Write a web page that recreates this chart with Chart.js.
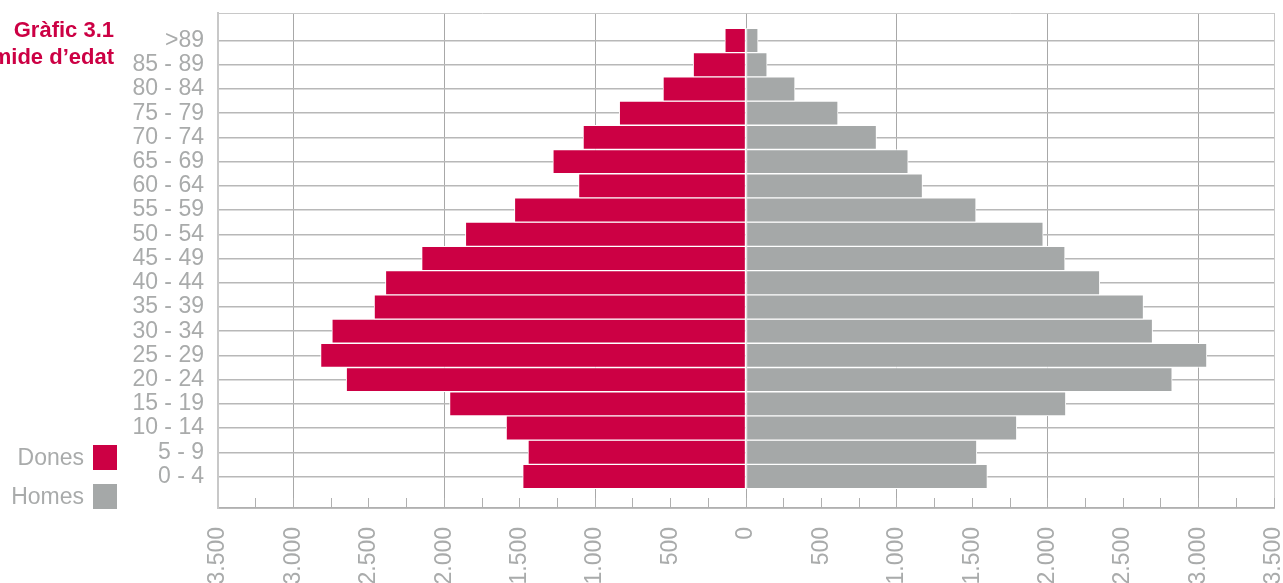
<!DOCTYPE html>
<html>
<head>
<meta charset="utf-8">
<script src="https://cdn.jsdelivr.net/npm/chart.js@4/dist/chart.umd.min.js"></script>
<style>
  body { margin: 0; background: #fff; overflow: hidden; font-family: 'Liberation Sans', Arial, sans-serif; }
  #wrap { position: relative; width: 1283px; height: 583px; }
  #titol { position: absolute; left: -202px; top: 16px; width: 316px; text-align: right;
           color: #cc0044; font-weight: bold; font-size: 22px; line-height: 27px; }
  .lleg { position: absolute; left: 0; width: 117px; height: 25px; }
  .lleg span { position: absolute; right: 33px; top: 0; font-size: 23px; line-height: 25px; color: #a9abab; }
  .lleg i { position: absolute; right: 0; top: 0; width: 24px; height: 25px; }
</style>
</head>
<body>
<div id="wrap">
  <canvas id="grafic"></canvas>
  <div id="titol">Gràfic 3.1<br>Piràmide d’edat</div>
  <div class="lleg" style="top:445px"><span>Dones</span><i style="background:#cc0044"></i></div>
  <div class="lleg" style="top:484px"><span>Homes</span><i style="background:#a5a8a8"></i></div>
</div>
<script>
// grups d'edat, de baix a dalt
const edats = ['0 - 4', '5 - 9', '10 - 14', '15 - 19', '20 - 24', '25 - 29', '30 - 34', '35 - 39',
  '40 - 44', '45 - 49', '50 - 54', '55 - 59', '60 - 64', '65 - 69', '70 - 74', '75 - 79',
  '80 - 84', '85 - 89', '>89'];
const dones = [1480, 1445, 1590, 1965, 2650, 2820, 2745, 2465, 2390, 2150, 1860, 1535, 1110, 1280, 1080, 840, 550, 350, 140];
const homes = [1600, 1530, 1795, 2120, 2825, 3055, 2695, 2635, 2345, 2115, 1970, 1525, 1170, 1075, 865, 610, 325, 140, 80];

const vermell = '#cc0044';
const gris = '#a5a8a8';
const textGris = '#a9abab';
const marc = '#c8c8c8';

function miles(v) {
  return String(Math.abs(v)).replace(/\B(?=(\d{3})+(?!\d))/g, '.');
}

// valor del tick (si el context en te)
const tv = c => (c && c.tick) ? c.tick.value : null;

Chart.defaults.font.family = "'Liberation Sans', Arial, sans-serif";

new Chart(document.getElementById('grafic'), {
  type: 'bar',
  data: {
    datasets: [{
      label: 'Dones',
      data: dones.map((v, i) => ({ x: -v, y: i })),
      backgroundColor: vermell,
      borderColor: '#fff',
      borderWidth: 1,
      borderSkipped: false
    }, {
      label: 'Homes',
      data: homes.map((v, i) => ({ x: v, y: i })),
      backgroundColor: gris,
      borderColor: '#fff',
      borderWidth: 1,
      borderSkipped: false
    }]
  },
  options: {
    indexAxis: 'y',
    responsive: true,
    maintainAspectRatio: false,
    animation: false,
    layout: { padding: { top: 13, right: 9, left: 0, bottom: 0 } },
    plugins: { legend: { display: false }, tooltip: { enabled: false } },
    datasets: { bar: { barPercentage: 1, categoryPercentage: 1 } },
    scales: {
      x: {
        type: 'linear',
        stacked: true,
        min: -3500,
        max: 3500,
        afterFit: s => { s.height = 75; s.paddingLeft = 0; s.paddingRight = 0; },
        border: { color: '#b0b0b0', width: 1.5 },
        grid: {
          color: c => {
            const v = tv(c);
            if (v === null) return marc;
            if (Math.abs(v) === 3500) return marc;
            return v % 1000 === 0 ? '#a8a8a8' : 'rgba(0,0,0,0)';
          },
          lineWidth: 1,
          drawTicks: true,
          tickLength: -10,
          tickColor: '#b0b0b0',
          tickWidth: 1
        },
        ticks: {
          stepSize: 250,
          autoSkip: false,
          minRotation: 90,
          maxRotation: 90,
          padding: 29,
          color: textGris,
          font: { size: 23 },
          callback: v => v % 500 === 0 ? miles(v) : ''
        }
      },
      y: {
        type: 'linear',
        stacked: true,
        offset: false,
        min: -1.3,
        max: 19.135,
        afterBuildTicks: s => {
          s.ticks = [s.min, ...edats.map((e, i) => i), s.max].map(v => ({ value: v }));
        },
        afterFit: s => { s.width = 218; s.paddingTop = 0; s.paddingBottom = 0; },
        border: { color: marc, width: 2 },
        grid: {
          offset: false,
          drawTicks: false,
          color: c => Number.isInteger(tv(c)) ? '#b8b8b8' : marc,
          lineWidth: c => Number.isInteger(tv(c)) ? 1.5 : 1
        },
        ticks: {
          autoSkip: false,
          padding: 14,
          color: textGris,
          font: { size: 23 },
          callback: v => Number.isInteger(v) && edats[v] ? edats[v] : ''
        }
      }
    }
  }
});
</script>
</body>
</html>
